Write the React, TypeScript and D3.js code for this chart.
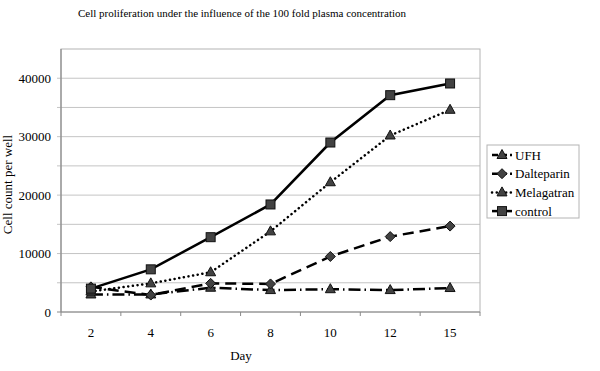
import React from "react";
import * as d3 from "d3";

const days = ["2", "4", "6", "8", "10", "12", "15"];
const ufh = [3000, 3000, 4150, 3750, 3900, 3750, 4100];
const dalteparin = [4300, 2900, 4900, 4800, 9500, 12900, 14700];
const melagatran = [3500, 4900, 6800, 13800, 22200, 30200, 34600];
const control = [4000, 7300, 12800, 18400, 29000, 37100, 39100];
const yTicks = [0, 10000, 20000, 30000, 40000];
const yGrid = [5000, 10000, 15000, 20000, 25000, 30000, 35000, 40000];

type Series = { name: string; values: number[]; dash: string | null; cap: "butt" | "round"; marker: "tri" | "dia" | "sq" };

const series: Series[] = [
  { name: "UFH", values: ufh, dash: "12 4 1.5 4", cap: "butt", marker: "tri" },
  { name: "Dalteparin", values: dalteparin, dash: "11 6", cap: "butt", marker: "dia" },
  { name: "Melagatran", values: melagatran, dash: "0.1 4.6", cap: "round", marker: "tri" },
  { name: "control", values: control, dash: null, cap: "butt", marker: "sq" },
];

const W = 600;
const H = 371;
const left = 61, right = 480, top = 49, bottom = 312;
const serif = { fontFamily: "Liberation Serif" };

function Marker({ type, x, y }: { type: string; x: number; y: number }) {
  const fill = "#424242";
  const stroke = "#111";
  if (type === "sq") return <rect x={x - 4.5} y={y - 4.5} width={9} height={9} fill={fill} stroke={stroke} strokeWidth={1} />;
  if (type === "dia") return <path d={`M${x},${y - 5}L${x + 5},${y}L${x},${y + 5}L${x - 5},${y}Z`} fill={fill} stroke={stroke} strokeWidth={1} />;
  return <path d={`M${x},${y - 5.5}L${x + 5},${y + 3.5}L${x - 5},${y + 3.5}Z`} fill={fill} stroke={stroke} strokeWidth={1} />;
}

export default function App() {
  const x = d3.scaleBand().domain(days).range([left, right]).paddingInner(0).paddingOuter(0);
  const y = d3.scaleLinear().domain([0, 45000]).range([bottom, top]);
  const cx = (d: string) => (x(d) || 0) + x.bandwidth() / 2;
  const line = d3.line<number>().x((_, i) => cx(days[i])).y(v => y(v));
  const boundaries = days.map(d => x(d) || 0).concat([right]);

  const legX = 487, legY = 145, legW = 92, legH = 73, rowH = 18.7;

  return (
    <svg width={W} height={H} style={{ position: "absolute", left: 0, top: 0, background: "#fff" }}>
      <text x={242} y={17} textAnchor="middle" fontSize={11} style={serif}>
        Cell proliferation under the influence of the 100 fold plasma concentration
      </text>

      {yGrid.map(v => (
        <line key={v} x1={left - 4} x2={right} y1={y(v)} y2={y(v)} stroke="#c4c4c4" strokeWidth={1} />
      ))}
      <rect x={left} y={top} width={right - left} height={bottom - top} fill="none" stroke="#b4b4b4" strokeWidth={1} />
      <line x1={left} x2={left} y1={top} y2={bottom} stroke="#8a8a8a" strokeWidth={1.2} />
      <line x1={left - 4} x2={right} y1={bottom} y2={bottom} stroke="#8a8a8a" strokeWidth={1.2} />
      {boundaries.map((b, i) => (
        <line key={i} x1={b} x2={b} y1={bottom} y2={bottom + 4} stroke="#8a8a8a" strokeWidth={1} />
      ))}

      {yTicks.map(v => (
        <text key={v} x={left - 10} y={y(v) + 4.5} textAnchor="end" fontSize={13} style={serif}>{v}</text>
      ))}
      {days.map(d => (
        <text key={d} x={cx(d)} y={337} textAnchor="middle" fontSize={13} style={serif}>{d}</text>
      ))}
      <text x={241} y={360} textAnchor="middle" fontSize={13} style={serif}>Day</text>
      <text transform={`translate(12,${(top + bottom) / 2 + 4}) rotate(-90)`} textAnchor="middle" fontSize={13} style={serif}>Cell count per well</text>

      {series.map(s => (
        <g key={s.name}>
          <path d={line(s.values) || ""} fill="none" stroke="#000" strokeWidth={2.5}
            strokeDasharray={s.dash || undefined} strokeLinecap={s.cap} />
          {s.values.map((v, i) => <Marker key={i} type={s.marker} x={cx(days[i])} y={y(v)} />)}
        </g>
      ))}

      <rect x={legX} y={legY} width={legW} height={legH} fill="#fff" stroke="#b4b4b4" strokeWidth={1} />
      {series.map((s, i) => {
        const ly = legY + 10 + i * rowH;
        return (
          <g key={s.name}>
            <line x1={492} x2={512} y1={ly} y2={ly} stroke="#000" strokeWidth={2.5}
              strokeDasharray={s.dash ? (s.cap === "round" ? "0.1 4.6" : "6 3") : undefined} strokeLinecap={s.cap} />
            <Marker type={s.marker} x={502} y={ly} />
            <text x={515} y={ly + 4.5} fontSize={13} style={serif}>{s.name}</text>
          </g>
        );
      })}
    </svg>
  );
}
